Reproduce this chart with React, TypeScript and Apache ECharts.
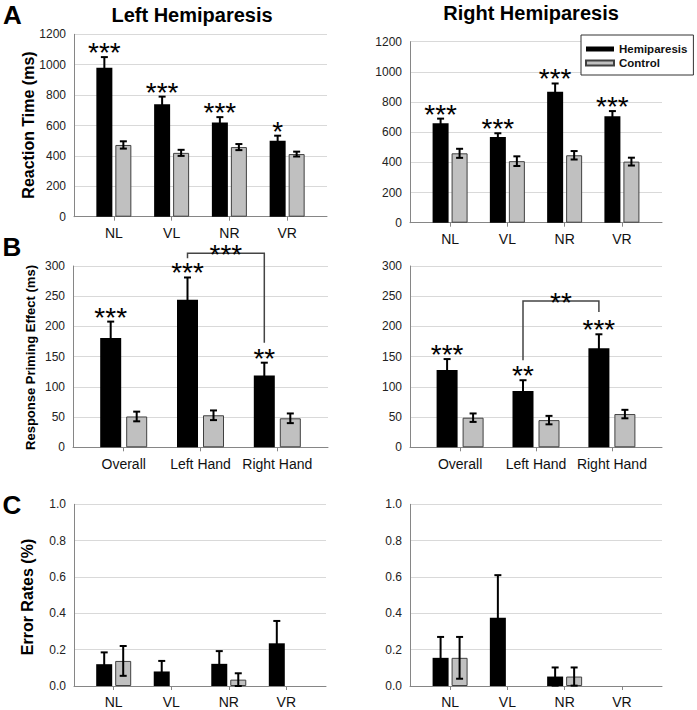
import React, { useEffect, useRef } from 'react';
import * as echarts from 'echarts';

const FONT = '"Liberation Sans", Arial, Helvetica, sans-serif';

// ---------- data ----------
const rtCategories = ['NL', 'VL', 'NR', 'VR'];
const rpCategories = ['Overall', 'Left Hand', 'Right Hand'];
const seriesNames = ['Hemiparesis', 'Control'];

// A: Reaction time (ms)
const rtLeftHemi = [980, 740, 620, 500];
const rtLeftHemiErr = [70, 50, 35, 33];
const rtLeftCtrl = [472, 420, 458, 412];
const rtLeftCtrlErr = [24, 20, 20, 16];
const rtLeftStars = ['***', '***', '***', '*'];

const rtRightHemi = [660, 568, 868, 705];
const rtRightHemiErr = [30, 25, 55, 35];
const rtRightCtrl = [460, 408, 447, 405];
const rtRightCtrlErr = [30, 32, 28, 26];
const rtRightStars = ['***', '***', '***', '***'];

// B: Response priming effect (ms)
const rpLeftHemi = [181, 244, 119];
const rpLeftHemiErr = [27, 37, 21];
const rpLeftCtrl = [51, 53, 48];
const rpLeftCtrlErr = [8, 8, 8];
const rpLeftStars = ['***', '***', '**'];
// [fromCategory, toCategory, topValue, leftEndValue, rightEndValue]
const rpLeftBracket = [1, 2, 321, 313, 173];
const rpLeftBracketLabel = '***';

const rpRightHemi = [128, 93, 164];
const rpRightHemiErr = [18, 18, 23];
const rpRightCtrl = [49, 45, 55];
const rpRightCtrlErr = [7, 7, 7];
const rpRightStars = ['***', '**', '***'];
const rpRightBracket = [1, 2, 242, 144, 224];
const rpRightBracketLabel = '**';

// C: Error rates (%)
const erLeftHemi = [0.12, 0.08, 0.122, 0.235];
const erLeftHemiErr = [0.065, 0.058, 0.07, 0.123];
const erLeftCtrl = [0.138, 0, 0.035, 0];
const erLeftCtrlErr = [0.082, 0, 0.035, 0];

const erRightHemi = [0.155, 0.375, 0.052, 0];
const erRightHemiErr = [0.115, 0.235, 0.05, 0];
const erRightCtrl = [0.155, 0, 0.052, 0];
const erRightCtrlErr = [0.115, 0, 0.05, 0];

const rtTicks = { max: 1200, interval: 200, decimals: 0 };
const rpTicks = { max: 300, interval: 50, decimals: 0 };
const erTicks = { max: 1.0, interval: 0.2, decimals: 1 };

type Panel = {
  box: { left: number; top: number; width: number; height: number };
  categories: string[];
  hemi: number[];
  hemiErr: number[];
  ctrl: number[];
  ctrlErr: number[];
  stars?: string[];
  ticks: { max: number; interval: number; decimals: number };
  barWidth: number;
  gapPx: number;
  pad: number;
  labelMargin: number;
  bracket?: number[];
  bracketLabel?: string;
};

const panels: Panel[] = [
  {
    box: { left: 74, top: 34.3, width: 253, height: 182.4 },
    categories: rtCategories, hemi: rtLeftHemi, hemiErr: rtLeftHemiErr,
    ctrl: rtLeftCtrl, ctrlErr: rtLeftCtrlErr, stars: rtLeftStars, ticks: rtTicks,
    barWidth: 16, gapPx: 3, pad: 0.69, labelMargin: 9,
  },
  {
    box: { left: 410, top: 41.7, width: 252, height: 181 },
    categories: rtCategories, hemi: rtRightHemi, hemiErr: rtRightHemiErr,
    ctrl: rtRightCtrl, ctrlErr: rtRightCtrlErr, stars: rtRightStars, ticks: rtTicks,
    barWidth: 16, gapPx: 3, pad: 0.7, labelMargin: 9,
  },
  {
    box: { left: 73, top: 266, width: 255, height: 181.3 },
    categories: rpCategories, hemi: rpLeftHemi, hemiErr: rpLeftHemiErr,
    ctrl: rpLeftCtrl, ctrlErr: rpLeftCtrlErr, stars: rpLeftStars, ticks: rpTicks,
    barWidth: 21, gapPx: 5, pad: 0.66, labelMargin: 10,
    bracket: rpLeftBracket, bracketLabel: rpLeftBracketLabel,
  },
  {
    box: { left: 410, top: 266, width: 252, height: 181.3 },
    categories: rpCategories, hemi: rpRightHemi, hemiErr: rpRightHemiErr,
    ctrl: rpRightCtrl, ctrlErr: rpRightCtrlErr, stars: rpRightStars, ticks: rpTicks,
    barWidth: 21, gapPx: 5, pad: 0.66, labelMargin: 10,
    bracket: rpRightBracket, bracketLabel: rpRightBracketLabel,
  },
  {
    box: { left: 74, top: 504.3, width: 252, height: 181.7 },
    categories: rtCategories, hemi: erLeftHemi, hemiErr: erLeftHemiErr,
    ctrl: erLeftCtrl, ctrlErr: erLeftCtrlErr, ticks: erTicks,
    barWidth: 16, gapPx: 3, pad: 0.69, labelMargin: 9,
  },
  {
    box: { left: 410, top: 504.3, width: 252, height: 181.7 },
    categories: rtCategories, hemi: erRightHemi, hemiErr: erRightHemiErr,
    ctrl: erRightCtrl, ctrlErr: erRightCtrlErr, ticks: erTicks,
    barWidth: 16, gapPx: 3, pad: 0.7, labelMargin: 9,
  },
];

const AXIS_COLOR = '#868686';
const STAR_FONT = `normal 28px ${FONT}`;

function buildOption() {
  const grid: any[] = [];
  const xAxis: any[] = [];
  const yAxis: any[] = [];
  const series: any[] = [];

  panels.forEach((p, i) => {
    const n = p.categories.length;
    const idx = p.categories.map((_, k) => k);
    const off = (p.barWidth + p.gapPx) / 2;
    grid.push({ ...p.box, containLabel: false, outerBoundsMode: 'none' });
    xAxis.push({
      type: 'value', gridIndex: i, min: -p.pad, max: n - 1 + p.pad,
      splitLine: { show: false },
      axisLine: { show: true, onZero: false, lineStyle: { color: AXIS_COLOR, width: 1 } },
      axisTick: { show: true, customValues: idx, length: 4, inside: false, lineStyle: { color: AXIS_COLOR } },
      axisLabel: {
        show: true, customValues: idx, margin: p.labelMargin,
        formatter: (v: number) => p.categories[Math.round(v)] ?? '',
        fontFamily: FONT, fontSize: 14, color: '#111',
      },
    });
    yAxis.push({
      type: 'value', gridIndex: i, min: 0, max: p.ticks.max, interval: p.ticks.interval,
      axisLine: { show: true, onZero: false, lineStyle: { color: AXIS_COLOR, width: 1 } },
      axisTick: { show: false },
      splitLine: { show: true, lineStyle: { color: '#d9d9d9', width: 1 } },
      axisLabel: {
        margin: 8, fontFamily: FONT, fontSize: 12, color: '#222',
        formatter: (v: number) => v.toFixed(p.ticks.decimals),
      },
    });
    const barPoint = (v: number, k: number) => (v ? [k, v] : [k, '-']);
    series.push({
      type: 'bar', name: seriesNames[0], xAxisIndex: i, yAxisIndex: i,
      data: p.hemi.map(barPoint),
      barWidth: p.barWidth, barGap: `${(p.gapPx / p.barWidth) * 100}%`,
      itemStyle: { color: '#000000' }, z: 2,
    });
    series.push({
      type: 'bar', name: seriesNames[1], xAxisIndex: i, yAxisIndex: i,
      data: p.ctrl.map(barPoint),
      barWidth: p.barWidth, barGap: `${(p.gapPx / p.barWidth) * 100}%`,
      itemStyle: { color: '#c0c0c0', borderColor: '#404040', borderWidth: 1 }, z: 2,
    });
    // error bars
    const errData = [
      ...p.hemi.map((v, k) => [k, v, p.hemiErr[k], 0]),
      ...p.ctrl.map((v, k) => [k, v, p.ctrlErr[k], 1]),
    ];
    series.push({
      type: 'custom', name: 'errors', xAxisIndex: i, yAxisIndex: i, clip: false, z: 5,
      encode: { x: 0, y: 1 }, silent: true,
      data: errData,
      renderItem: (params: any, api: any) => {
        const x = api.value(0);
        const v = api.value(1);
        const e = api.value(2);
        const g = api.value(3);
        if (!v || !e) return null;
        const base = api.coord([x, v]);
        const cx = base[0] + (g === 0 ? -off : off);
        const yt = api.coord([x, v + e])[1];
        const yb = api.coord([x, Math.max(0, v - e)])[1];
        const cap = 3.5;
        const st = { stroke: '#000', lineWidth: 2 };
        return {
          type: 'group',
          children: [
            { type: 'line', shape: { x1: cx, y1: yt, x2: cx, y2: yb }, style: st },
            { type: 'line', shape: { x1: cx - cap, y1: yt, x2: cx + cap, y2: yt }, style: st },
            { type: 'line', shape: { x1: cx - cap, y1: yb, x2: cx + cap, y2: yb }, style: st },
          ],
        };
      },
    });
    if (p.stars) {
      const stars = p.stars;
      series.push({
        type: 'custom', name: 'stars', xAxisIndex: i, yAxisIndex: i, clip: false, z: 6,
        encode: { x: 0, y: 1 }, silent: true,
        data: p.hemi.map((v, k) => [k, v + p.hemiErr[k]]),
        renderItem: (params: any, api: any) => {
          const pt = api.coord([api.value(0), api.value(1)]);
          return {
            type: 'text',
            x: pt[0] - off,
            y: pt[1] - 4.5,
            style: { text: stars[params.dataIndex], font: STAR_FONT, fill: '#000', align: 'center', verticalAlign: 'middle' },
          };
        },
      });
    }
    if (p.bracket) {
      const label = p.bracketLabel || '';
      series.push({
        type: 'custom', name: 'bracket', xAxisIndex: i, yAxisIndex: i, clip: false, z: 6,
        encode: { x: 0, y: 2 }, silent: true,
        data: [p.bracket],
        renderItem: (params: any, api: any) => {
          const a = api.value(0), b = api.value(1), top = api.value(2), lb = api.value(3), rb = api.value(4);
          const pa = api.coord([a, top]);
          const pb = api.coord([b, top]);
          const x1 = pa[0] - off;
          const x2 = pb[0] - off;
          const yTop = pa[1];
          const yl = api.coord([a, lb])[1];
          const yr = api.coord([b, rb])[1];
          return {
            type: 'group',
            children: [
              {
                type: 'polyline',
                shape: { points: [[x1, yl], [x1, yTop], [x2, yTop], [x2, yr]] },
                style: { stroke: '#444', lineWidth: 1.5, fill: null },
              },
              {
                type: 'text', x: (x1 + x2) / 2, y: yTop + 1.5,
                style: { text: label, font: STAR_FONT, fill: '#000', align: 'center', verticalAlign: 'middle' },
              },
            ],
          };
        },
      });
    }
  });

  const boldText = (text: string, x: number, y: number, size: number, rotate = 0) => ({
    type: 'text', x, y, rotation: rotate,
    style: { text, font: `bold ${size}px ${FONT}`, fill: '#000', align: 'center', verticalAlign: 'middle' },
  });

  return {
    animation: false,
    backgroundColor: '#ffffff',
    grid, xAxis, yAxis, series,
    legend: {
      show: true, data: seriesNames, orient: 'vertical', left: 581, top: 35,
      itemWidth: 28, itemHeight: 5, itemGap: 0, padding: [7, 6, 5, 4],
      borderColor: '#333', borderWidth: 1, borderRadius: 0, backgroundColor: '#ffffff',
      icon: 'rect', selectedMode: false, z: 10,
      textStyle: { fontFamily: FONT, fontWeight: 'bold', fontSize: 11.5, color: '#111', lineHeight: 14 },
    },
    graphic: [
      boldText('Left Hemiparesis', 192, 15, 20),
      boldText('Right Hemiparesis', 531, 13, 20),
      boldText('A', 12.5, 15, 26),
      boldText('B', 12, 247, 26),
      boldText('C', 12, 505, 26),
      boldText('Reaction Time (ms)', 28, 125, 16, Math.PI / 2),
      boldText('Response Priming Effect (ms)', 30, 357.5, 13, Math.PI / 2),
      boldText('Error Rates (%)', 27, 597, 16, Math.PI / 2),
    ],
  };
}

export default function App() {
  const ref = useRef<HTMLDivElement>(null);
  useEffect(() => {
    document.body.style.margin = '0';
    if (!ref.current) return;
    const chart = echarts.init(ref.current, undefined, { renderer: 'svg' });
    chart.setOption(buildOption() as any);
    return () => chart.dispose();
  }, []);
  return (
    <div
      ref={ref}
      style={{ position: 'absolute', left: 0, top: 0, width: 697, height: 710, background: '#fff' }}
    />
  );
}
